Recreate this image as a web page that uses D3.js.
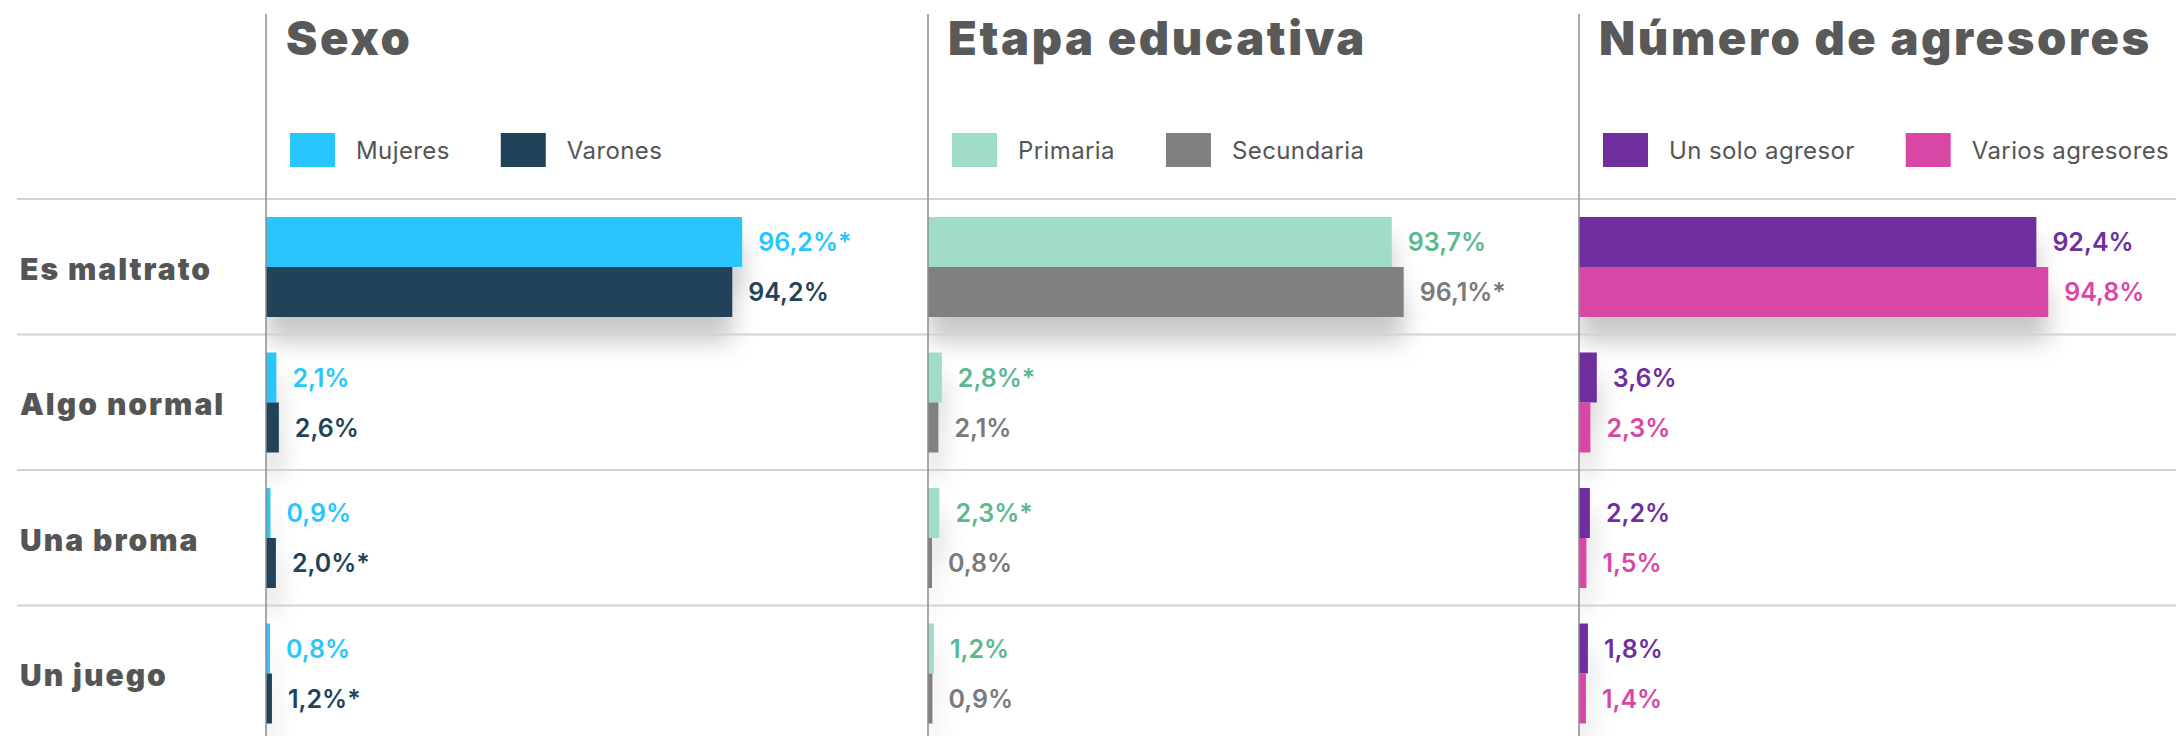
<!DOCTYPE html>
<meta charset="utf-8">

<script src="https://d3js.org/d3.v7.min.js"></script>

<style type="text/css">

body {
  margin: 0;
  background: #fff;
}

svg {
  display: block;
}

text {
  font-family: "Inter", "Open Sans", sans-serif;
}

.panelTitle {
  font-size: 47px;
  font-weight: 900;
  letter-spacing: 2.6px;
  fill: #595959;
}

.rowLabel {
  font-size: 30px;
  font-weight: 900;
  letter-spacing: 2px;
  fill: #555;
}

.legendText {
  font-size: 24px;
  font-weight: 400;
  letter-spacing: 0.4px;
  fill: #555;
}

.valueLabel {
  font-size: 25px;
  font-weight: 600;
}

.grid {
  stroke: #d2d2d2;
  stroke-width: 2;
}

.divider {
  stroke: #8c8c8c;
  stroke-width: 1.5;
}

</style>

<body></body>

<script>

  // ---------------------------//
  //         DATA               //
  // ---------------------------//

  const categories = ["Es maltrato", "Algo normal", "Una broma", "Un juego"];
  const panelTitles = ["Sexo", "Etapa educativa", "Número de agresores"];
  const seriesNames = [["Mujeres", "Varones"], ["Primaria", "Secundaria"], ["Un solo agresor", "Varios agresores"]];

  const mujeres = [96.2, 2.1, 0.9, 0.8];
  const varones = [94.2, 2.6, 2.0, 1.2];
  const primaria = [93.7, 2.8, 2.3, 1.2];
  const secundaria = [96.1, 2.1, 0.8, 0.9];
  const unSolo = [92.4, 3.6, 2.2, 1.8];
  const varios = [94.8, 2.3, 1.5, 1.4];

  // asterisk = significant difference
  const mujeresSig = [true, false, false, false];
  const varonesSig = [false, false, true, true];
  const primariaSig = [false, true, true, false];
  const secundariaSig = [true, false, false, false];
  const unSoloSig = [false, false, false, false];
  const variosSig = [false, false, false, false];

  const panelValues = [[mujeres, varones], [primaria, secundaria], [unSolo, varios]];
  const panelSig = [[mujeresSig, varonesSig], [primariaSig, secundariaSig], [unSoloSig, variosSig]];

  // ---------------------------//
  //         LAYOUT             //
  // ---------------------------//

  const outerWidth = 2176;
  const outerHeight = 736;
  const panelX = [266, 928, 1579];
  const gridStartX = 17;
  const rowTop = 199;
  const rowStep = 135.5;
  const barPad = 18;
  const barHeight = 50;
  const labelGap = 16;

  const barColors = [["#29c5fd", "#21435a"], ["#9fddc6", "#808080"], ["#6e2f9d", "#d847a6"]];
  const labelColors = [["#29c5fd", "#21435a"], ["#5cb88f", "#7a7a7a"], ["#6e2f9d", "#d847a6"]];

  const xScale = d3.scaleLinear()
                  .domain([0, 100])
                  .range([0, 495]);

  const yRow = d3.scaleBand()
                  .domain(categories)
                  .range([rowTop, rowTop + rowStep * categories.length]);

  const ySeries = d3.scaleBand()
                  .domain([0, 1])
                  .range([barPad, barPad + barHeight * 2]);

  const locale = d3.formatLocale({decimal: ",", thousands: ".", grouping: [3], currency: ["", "€"]});
  const oneDecimal = locale.format(".1f");

  const SVG = d3.select("body").append("svg")
    .attr("width", outerWidth)
    .attr("height", outerHeight);

  // ---------------------------//
  //         SHADOW             //
  // ---------------------------//

  const shadow = SVG.append("defs").append("filter")
    .attr("id", "barShadow")
    .attr("filterUnits", "userSpaceOnUse")
    .attr("x", 0).attr("y", 0)
    .attr("width", outerWidth).attr("height", outerHeight + 100);

  shadow.append("feDropShadow")
    .attr("dx", 0)
    .attr("dy", 24)
    .attr("stdDeviation", 12)
    .attr("flood-color", "#000")
    .attr("flood-opacity", 0.22);

  // ---------------------------//
  //         BARS               //
  // ---------------------------//

  panelValues.forEach(function(series, p) {

    const panel = SVG.append("g")
        .attr("transform", "translate(" + panelX[p] + ",0)");

    categories.forEach(function(cat, i) {
      const group = panel.append("g")
          .attr("transform", "translate(0," + yRow(cat) + ")")
          .attr("filter", "url(#barShadow)");

      series.forEach(function(vals, s) {
        group.append("rect")
            .attr("x", 0)
            .attr("y", ySeries(s))
            .attr("width", xScale(vals[i]))
            .attr("height", ySeries.bandwidth())
            .style("fill", barColors[p][s]);
      });
    });
  });

  // ---------------------------//
  //         GRID LINES         //
  // ---------------------------//

  SVG.selectAll(".grid")
    .data(categories)
    .enter().append("line")
      .classed("grid", true)
      .attr("x1", gridStartX)
      .attr("x2", outerWidth)
      .attr("y1", d => yRow(d))
      .attr("y2", d => yRow(d));

  SVG.selectAll(".divider")
    .data(panelX)
    .enter().append("line")
      .classed("divider", true)
      .attr("x1", d => d)
      .attr("x2", d => d)
      .attr("y1", 14)
      .attr("y2", outerHeight);

  // ---------------------------//
  //         VALUE LABELS       //
  // ---------------------------//

  panelValues.forEach(function(series, p) {
    series.forEach(function(vals, s) {
      SVG.selectAll(".val" + p + s)
        .data(vals)
        .enter().append("text")
          .classed("valueLabel", true)
          .attr("x", d => panelX[p] + xScale(d) + labelGap)
          .attr("y", (d, i) => yRow(categories[i]) + ySeries(s) + ySeries.bandwidth() / 2)
          .attr("dy", "0.36em")
          .style("fill", labelColors[p][s])
          .text((d, i) => oneDecimal(d) + "%" + (panelSig[p][s][i] ? "*" : ""));
    });
  });

  // ---------------------------//
  //         ROW LABELS         //
  // ---------------------------//

  SVG.selectAll(".rowLabel")
    .data(categories)
    .enter().append("text")
      .classed("rowLabel", true)
      .attr("x", 20)
      .attr("y", d => yRow(d) + yRow.bandwidth() / 2 + 2)
      .attr("dy", "0.36em")
      .text(d => d);

  // ---------------------------//
  //    TITLES & LEGENDS        //
  // ---------------------------//

  panelTitles.forEach(function(title, p) {
    SVG.append("text")
        .classed("panelTitle", true)
        .attr("x", panelX[p] + 20)
        .attr("y", 55)
        .text(title);

    let lx = panelX[p] + 24;
    seriesNames[p].forEach(function(name, s) {
      SVG.append("rect")
          .attr("x", lx)
          .attr("y", 133)
          .attr("width", 45)
          .attr("height", 34)
          .style("fill", barColors[p][s]);

      const t = SVG.append("text")
          .classed("legendText", true)
          .attr("x", lx + 66)
          .attr("y", 150)
          .attr("dy", "0.36em")
          .text(name);

      lx = lx + 66 + t.node().getComputedTextLength() + 51;
    });
  });

</script>
